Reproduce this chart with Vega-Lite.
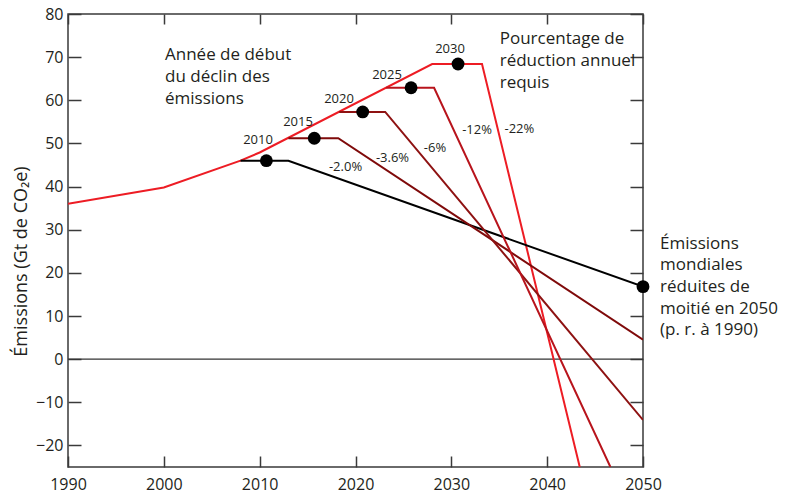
{
  "$schema": "https://vega.github.io/schema/vega-lite/v6.json",
  "width": 575,
  "height": 453,
  "autosize": {"type": "none"},
  "padding": {"left": 68, "top": 14, "right": 145, "bottom": 26},
  "background": "white",
  "config": {
    "font": "Open Sans",
    "view": {"stroke": "#3a3a3a", "strokeWidth": 1.5},
    "axis": {"grid": false, "domain": false, "labelFlush": false, "tickColor": "#3a3a3a", "tickWidth": 1.5, "labelFont": "Open Sans", "labelFontSize": 16, "labelColor": "#231f20", "titleFont": "Open Sans", "titleFontWeight": "normal", "titleColor": "#231f20"}
  },
  "datasets": {
    "lines": [
      {"s": "2030", "x": 1990, "y": 36},
      {"s": "2030", "x": 2000, "y": 39.8},
      {"s": "2030", "x": 2008, "y": 46},
      {"s": "2030", "x": 2010, "y": 47.9},
      {"s": "2030", "x": 2028, "y": 68.4},
      {"s": "2030", "x": 2033.2, "y": 68.4},
      {"s": "2030", "x": 2043.4, "y": -25},
      {"s": "2010", "x": 2008, "y": 46},
      {"s": "2010", "x": 2013, "y": 46},
      {"s": "2010", "x": 2050, "y": 16.8},
      {"s": "2015", "x": 2013, "y": 51.2},
      {"s": "2015", "x": 2018.2, "y": 51.2},
      {"s": "2015", "x": 2050, "y": 4.5},
      {"s": "2020", "x": 2018.3, "y": 57.3},
      {"s": "2020", "x": 2023.1, "y": 57.3},
      {"s": "2020", "x": 2050, "y": -14.1},
      {"s": "2025", "x": 2023.2, "y": 62.9},
      {"s": "2025", "x": 2028.2, "y": 62.9},
      {"s": "2025", "x": 2046.6, "y": -25}
    ],
    "dots": [
      {"x": 2010.7, "y": 46},
      {"x": 2015.7, "y": 51.2},
      {"x": 2020.75, "y": 57.3},
      {"x": 2025.8, "y": 62.9},
      {"x": 2030.7, "y": 68.4},
      {"x": 2050, "y": 16.8}
    ],
    "small": [
      {"t": "2010", "x": 2009.83, "y": 49.8},
      {"t": "2015", "x": 2014.0, "y": 53.95},
      {"t": "2020", "x": 2018.28, "y": 59.3},
      {"t": "2025", "x": 2023.29, "y": 64.9},
      {"t": "2030", "x": 2029.86, "y": 70.9},
      {"t": "-2.0%", "x": 2018.96, "y": 43.7},
      {"t": "-3.6%", "x": 2023.86, "y": 45.8},
      {"t": "-6%", "x": 2028.3, "y": 47.9},
      {"t": "-12%", "x": 2032.68, "y": 52.1},
      {"t": "-22%", "x": 2037.1, "y": 52.5}
    ],
    "notes": [
      {"t": "Année de début\ndu déclin des\némissions", "x": 2000.12, "y": 69.3},
      {"t": "Pourcentage de\nréduction annuel\nrequis", "x": 2035.05, "y": 73.0},
      {"t": "Émissions\nmondiales\nréduites de\nmoitié en 2050\n(p. r. à 1990)", "x": 2051.78, "y": 25.6}
    ],
    "zero": [{"y": 0}]
  },
  "layer": [
    {
      "data": {"name": "zero"},
      "mark": {"type": "rule", "color": "#333333", "strokeWidth": 1.3},
      "encoding": {
        "y": {"field": "y", "type": "quantitative", "scale": {"domain": [-25, 80], "nice": false, "zero": false},
          "axis": {"orient": "left", "values": [-20, -10, 0, 10, 20, 30, 40, 50, 60, 70, 80], "tickSize": -13, "labelPadding": 18, "title": "Émissions (Gt de CO₂e)", "titleFontSize": 18, "titleX": -47, "titleY": 247, "titleAngle": -90, "titleAlign": "center", "titleBaseline": "middle"}}
      }
    },
    {
      "data": {"name": "lines"},
      "mark": {"type": "line", "strokeWidth": 2, "clip": true},
      "encoding": {
        "x": {"field": "x", "type": "quantitative", "scale": {"domain": [1990, 2050], "nice": false, "zero": false},
          "axis": {"orient": "bottom", "values": [1990, 2000, 2010, 2020, 2030, 2040, 2050], "tickSize": -11, "labelPadding": 20, "title": null, "format": "d"}},
        "y": {"field": "y", "type": "quantitative", "scale": {"domain": [-25, 80], "nice": false, "zero": false},
          "axis": {"orient": "right", "values": [-20, -10, 0, 10, 20, 30, 40, 50, 60, 70, 80], "tickSize": -13, "labels": false, "title": null}},
        "color": {"field": "s", "type": "nominal", "legend": null,
          "scale": {"domain": ["2010", "2015", "2020", "2025", "2030"], "range": ["#000000", "#7f0a0a", "#8e1212", "#b8141c", "#ed1c24"]}}
      }
    },
    {
      "data": {"name": "dots"},
      "mark": {"type": "point", "filled": true, "size": 165, "color": "#000000", "opacity": 1},
      "encoding": {
        "x": {"field": "x", "type": "quantitative", "axis": {"orient": "top", "values": [1990, 2000, 2010, 2020, 2030, 2040, 2050], "tickSize": -10, "labels": false, "title": null}},
        "y": {"field": "y", "type": "quantitative", "axis": null}
      }
    },
    {
      "data": {"name": "small"},
      "mark": {"type": "text", "fontSize": 13, "align": "center", "baseline": "alphabetic", "color": "#231f20"},
      "encoding": {
        "x": {"field": "x", "type": "quantitative", "axis": null},
        "y": {"field": "y", "type": "quantitative", "axis": null},
        "text": {"field": "t"}
      }
    },
    {
      "data": {"name": "notes"},
      "mark": {"type": "text", "fontSize": 17, "align": "left", "baseline": "alphabetic", "lineBreak": "\n", "lineHeight": 21.7, "color": "#231f20"},
      "encoding": {
        "x": {"field": "x", "type": "quantitative", "axis": null},
        "y": {"field": "y", "type": "quantitative", "axis": null},
        "text": {"field": "t"}
      }
    }
  ],
  "resolve": {"axis": {"x": "independent", "y": "independent"}}
}
